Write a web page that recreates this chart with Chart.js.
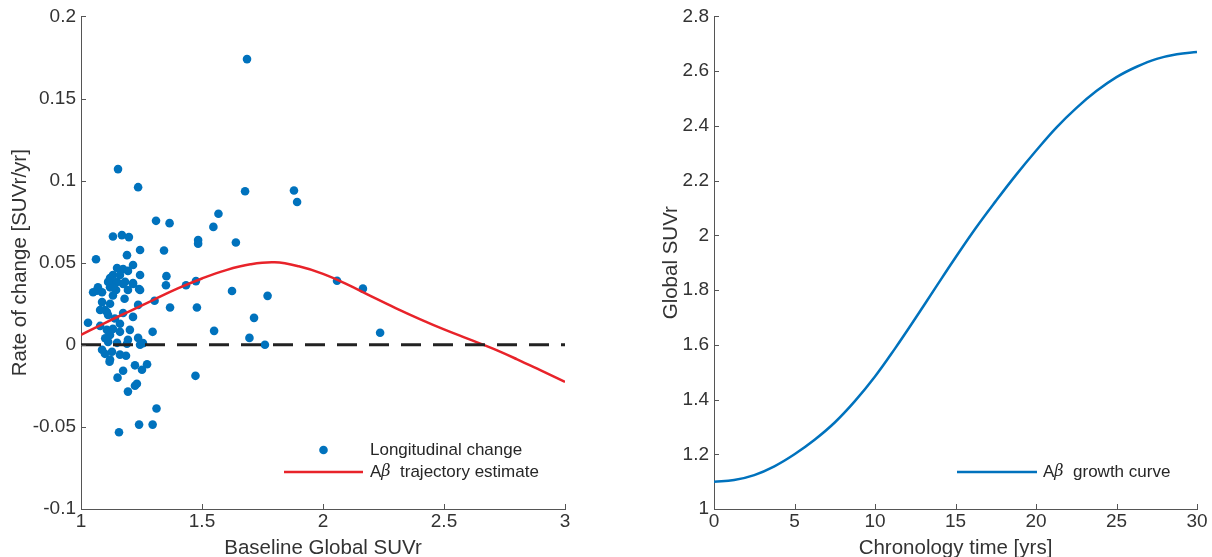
<!DOCTYPE html>
<html lang="en">
<head>
<meta charset="UTF-8">
<title>Amyloid trajectory</title>
<script src="https://cdn.jsdelivr.net/npm/chart.js"></script>
<style>
    body {
        margin: 0;
        background: #fff;
    }
    .wrap {
        position: relative;
        width: 1212px;
        height: 557px;
    }
    .box {
        position: absolute;
        top: 0;
        height: 557px;
    }
</style>
</head>
<body>
<div class="wrap">
    <div class="box" style="left:0;width:600px;"><canvas id="rateChart"></canvas></div>
    <div class="box" style="left:600px;width:612px;"><canvas id="growthChart"></canvas></div>
</div>

<script>
// ---- left panel: rate of change vs baseline SUVr ----
const baselineSUVr = [
    1.686, 1.153, 1.236, 1.678, 1.880, 1.893, 1.310, 1.366, 1.568, 1.547,
    1.484, 1.484, 1.640, 1.343, 1.244, 1.062, 1.353, 1.351, 1.434, 1.475,
    1.624, 1.771, 2.058, 2.165, 1.715, 1.696, 1.760, 2.236, 1.304, 1.368,
    1.479, 1.296, 1.550, 1.473, 1.312, 1.296, 1.240, 1.157, 1.087, 1.099,
    1.120, 1.161, 1.186, 1.223, 1.252, 1.273, 1.174, 1.151, 1.231, 1.223,
    1.194, 1.128, 1.118, 1.244, 1.190, 1.149, 1.112, 1.236, 1.194, 1.256,
    1.029, 1.079, 1.107, 1.120, 1.161, 1.202, 1.161, 1.174, 1.215, 1.236,
    1.132, 1.112, 1.099, 1.079, 1.107, 1.087, 1.120, 1.132, 1.087, 1.066,
    1.070, 1.120, 1.132, 1.174, 1.215, 1.240, 1.050, 1.194, 1.244, 1.145,
    1.132, 1.169, 1.198, 1.190, 1.149, 1.174, 1.215, 1.194, 1.132, 1.161,
    1.244, 1.120, 1.112, 1.149, 1.182, 1.215, 1.132, 1.140, 1.100, 1.180
];
const rateOfChange = [
    0.1740, 0.1070, 0.0960, 0.0935, 0.0940, 0.0870, 0.0755, 0.0741, 0.0798, 0.0718,
    0.0638, 0.0616, 0.0623, 0.0574, 0.0577, 0.0521, 0.0418, 0.0363, 0.0363, 0.0388,
    0.0328, 0.0298, 0.0390, 0.0342, 0.0164, 0.0042, 0.0000, 0.0073, 0.0268, 0.0227,
    0.0227, 0.0079, 0.0085, -0.0189, -0.0388, -0.0486, -0.0486, -0.0533, -0.0030, -0.0055,
    -0.0090, -0.0060, -0.0067, -0.0125, -0.0152, -0.0118, -0.0158, -0.0200, -0.0237, -0.0249,
    -0.0285, -0.0042, -0.0103, 0.0000, 0.0006, 0.0012, 0.0018, 0.0042, 0.0030, 0.0010,
    0.0134, 0.0115, 0.0091, 0.0060, 0.0128, 0.0091, 0.0079, 0.0194, 0.0170, 0.0243,
    0.0097, 0.0182, 0.0212, 0.0212, 0.0200, 0.0260, 0.0250, 0.0300, 0.0320, 0.0330,
    0.0350, 0.0350, 0.0370, 0.0370, 0.0370, 0.0340, 0.0320, 0.0334, 0.0334, 0.0334,
    0.0660, 0.0668, 0.0656, 0.0546, 0.0468, 0.0462, 0.0486, 0.0450, 0.0425, 0.0425,
    0.0425, 0.0407, 0.0383, 0.0383, 0.0383, 0.0376, 0.0350, 0.0160, 0.0040, 0.0280
];

const trajSUVr = [1.0, 1.1, 1.2, 1.3, 1.4, 1.5, 1.6, 1.7, 1.8, 1.9, 2.0,
                  2.1, 2.2, 2.3, 2.4, 2.5, 2.6, 2.7, 2.8, 2.9, 3.0];
const trajRate = [0.0060, 0.0134, 0.0204, 0.0274, 0.0343, 0.0404, 0.0455, 0.0490, 0.0502, 0.0478, 0.0432,
                  0.0368, 0.0295, 0.0224, 0.0157, 0.0094, 0.0036, -0.0022, -0.0087, -0.0156, -0.0226];

const suvrTicks = [1, 1.5, 2, 2.5, 3];
const rateTicks = [-0.1, -0.05, 0, 0.05, 0.1, 0.15, 0.2];

// ---- right panel: growth curve ----
const chronoYears = [0, 1.25, 2.5, 3.75, 5, 6.25, 7.5, 8.75, 10, 11.25, 12.5, 13.75, 15,
                     16.25, 17.5, 18.75, 20, 21.25, 22.5, 23.75, 25, 26.25, 27.5, 28.75, 30];
const growthSUVr = [1.100, 1.106, 1.124, 1.156, 1.200, 1.253, 1.316, 1.394, 1.484, 1.587, 1.696, 1.808, 1.919,
                    2.026, 2.125, 2.220, 2.309, 2.393, 2.465, 2.527, 2.578, 2.616, 2.645, 2.662, 2.670];

const timeTicks = [0, 5, 10, 15, 20, 25, 30];
const globalTicks = [1, 1.2, 1.4, 1.6, 1.8, 2, 2.2, 2.4, 2.6, 2.8];

const BLUE = '#0072BD';
const RED = '#e8232a';
const TEXT = '#333333';
const AXIS = '#555555';

Chart.defaults.font.family = '"Liberation Sans", Arial, sans-serif';
Chart.defaults.color = TEXT;

// MATLAB style tick marks pointing into the plot
const inwardTicks = {
    id: 'inwardTicks',
    afterDraw(chart) {
        const {ctx, chartArea} = chart;
        const xs = chart.scales.x, ys = chart.scales.y;
        ctx.save();
        ctx.strokeStyle = AXIS;
        ctx.lineWidth = 1;
        ctx.beginPath();
        xs.ticks.forEach(t => {
            const px = Math.round(xs.getPixelForValue(t.value)) + 0.5;
            ctx.moveTo(px, chartArea.bottom);
            ctx.lineTo(px, chartArea.bottom - 5);
        });
        ys.ticks.forEach(t => {
            const py = Math.round(ys.getPixelForValue(t.value)) + 0.5;
            ctx.moveTo(chartArea.left, py);
            ctx.lineTo(chartArea.left + 5, py);
        });
        ctx.stroke();
        ctx.restore();
    }
};

// legend drawn inside the axes, like the MATLAB one
const inlineLegend = {
    id: 'inlineLegend',
    afterDraw(chart, args, opts) {
        if (!opts.rows) return;
        const ctx = chart.ctx;
        ctx.save();
        opts.rows.forEach(row => {
            const ds = chart.data.datasets[row.dataset];
            if (row.kind === 'line') {
                ctx.strokeStyle = ds.borderColor;
                ctx.lineWidth = ds.borderWidth;
                ctx.beginPath();
                ctx.moveTo(row.x0, row.y);
                ctx.lineTo(row.x1, row.y);
                ctx.stroke();
            } else {
                ctx.fillStyle = ds.backgroundColor;
                ctx.beginPath();
                ctx.arc((row.x0 + row.x1) / 2, row.y, ds.pointRadius, 0, Math.PI * 2);
                ctx.fill();
            }
            let x = opts.textX;
            ctx.fillStyle = '#262626';
            ctx.textBaseline = 'middle';
            ctx.textAlign = 'left';
            row.parts.forEach(p => {
                ctx.font = p.italic ? 'italic 16px "DejaVu Serif"' : '17px "Liberation Sans"';
                ctx.fillText(p.t, x, row.y);
                x += ctx.measureText(p.t).width;
            });
        });
        ctx.restore();
    }
};

function axisOpts(min, max, tickList, title, horizontal, titlePad) {
    return {
        type: 'linear',
        min: min,
        max: max,
        afterBuildTicks: s => { s.ticks = tickList.map(v => ({value: v})); },
        grid: {display: false, drawTicks: false},
        border: {display: true, color: AXIS, width: 1},
        ticks: {
            color: TEXT,
            font: {size: 19},
            padding: horizontal ? 1 : 5,
            maxRotation: 0,
            autoSkip: false,
            callback: v => String(v)
        },
        title: {
            display: true,
            text: title,
            color: TEXT,
            font: {size: 20.5, lineHeight: 0.85},
            padding: horizontal ? {top: 0, bottom: 0} : {top: titlePad, bottom: 0}
        }
    };
}

// Left chart
const rateX = axisOpts(1, 3, suvrTicks, 'Baseline Global SUVr', true);
rateX.afterFit = s => { s.height = 48; };
const rateY = axisOpts(-0.1, 0.2, rateTicks, 'Rate of change [SUVr/yr]', false, 12);
rateY.afterFit = s => { s.width = 81; };

new Chart(document.getElementById('rateChart'), {
    type: 'scatter',
    data: {
        datasets: [
            {
                label: 'Longitudinal change',
                data: baselineSUVr.map((x, i) => ({x: x, y: rateOfChange[i]})),
                backgroundColor: BLUE,
                borderWidth: 0,
                pointRadius: 4.3,
                order: 3
            },
            {
                label: 'A\u03b2 trajectory estimate',
                type: 'line',
                data: trajSUVr.map((x, i) => ({x: x, y: trajRate[i]})),
                borderColor: RED,
                borderWidth: 2.5,
                pointRadius: 0,
                tension: 0.4,
                fill: false,
                order: 2
            },
            {
                label: 'zero',
                type: 'line',
                data: [{x: suvrTicks[0], y: 0}, {x: suvrTicks[suvrTicks.length - 1], y: 0}],
                borderColor: '#222222',
                borderWidth: 3,
                borderDash: [20, 12],
                pointRadius: 0,
                fill: false,
                order: 1
            }
        ]
    },
    options: {
        responsive: true,
        maintainAspectRatio: false,
        animation: false,
        layout: {padding: {top: 15, right: 35, bottom: 0, left: 0}},
        plugins: {
            legend: {display: false},
            tooltip: {enabled: false},
            inlineLegend: {
                textX: 370,
                rows: [
                    {dataset: 0, kind: 'point', x0: 284, x1: 363, y: 450,
                     parts: [{t: 'Longitudinal change'}]},
                    {dataset: 1, kind: 'line', x0: 284, x1: 363, y: 472,
                     parts: [{t: 'A'}, {t: '\u03b2', italic: true}, {t: '  trajectory estimate'}]}
                ]
            }
        },
        scales: {x: rateX, y: rateY}
    },
    plugins: [inwardTicks, inlineLegend]
});

// Right chart
const timeX = axisOpts(0, 30, timeTicks, 'Chronology time [yrs]', true);
timeX.afterFit = s => { s.height = 48; };
const suvrY = axisOpts(1, 2.8, globalTicks, 'Global SUVr', false, 11);
suvrY.afterFit = s => { s.width = 62; };

new Chart(document.getElementById('growthChart'), {
    type: 'line',
    data: {
        datasets: [{
            label: 'A\u03b2 growth curve',
            data: chronoYears.map((t, i) => ({x: t, y: growthSUVr[i]})),
            borderColor: BLUE,
            borderWidth: 2.5,
            pointRadius: 0,
            tension: 0.4,
            fill: false
        }]
    },
    options: {
        responsive: true,
        maintainAspectRatio: false,
        animation: false,
        layout: {padding: {top: 15, right: 15, bottom: 0, left: 52}},
        plugins: {
            legend: {display: false},
            tooltip: {enabled: false},
            inlineLegend: {
                textX: 443,
                rows: [
                    {dataset: 0, kind: 'line', x0: 357, x1: 437, y: 472,
                     parts: [{t: 'A'}, {t: '\u03b2', italic: true}, {t: '  growth curve'}]}
                ]
            }
        },
        scales: {x: timeX, y: suvrY}
    },
    plugins: [inwardTicks, inlineLegend]
});
</script>
</body>
</html>
